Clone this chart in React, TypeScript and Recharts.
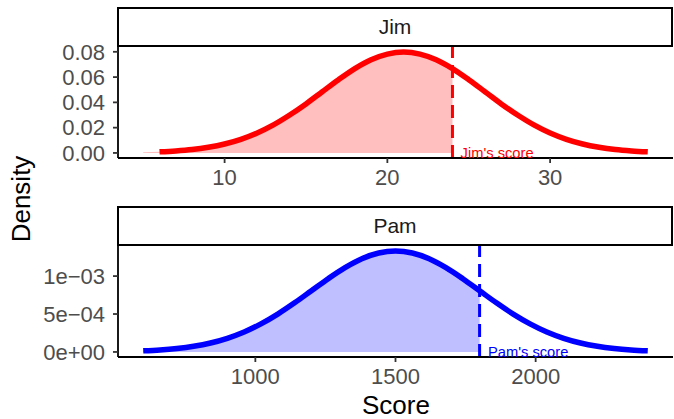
import React from "react";
import {
  ComposedChart,
  Line,
  Area,
  XAxis,
  YAxis,
  ReferenceLine,
  ReferenceDot,
} from "recharts";

// ---- Jim ----
const jimScores = [5, 6, 7, 8, 9, 10, 11, 12, 13, 14, 15, 16, 17, 18, 19, 20, 21, 22, 23, 24, 25, 26, 27, 28, 29, 30, 31, 32, 33, 34, 35, 36];
const jimDensity = [0.0005, 0.0009, 0.0016, 0.0027, 0.0045, 0.0071, 0.0108, 0.0158, 0.0222, 0.03, 0.0388, 0.0484, 0.0579, 0.0667, 0.0737, 0.0782, 0.0798, 0.0782, 0.0737, 0.0667, 0.0579, 0.0484, 0.0388, 0.03, 0.0222, 0.0158, 0.0108, 0.0071, 0.0045, 0.0027, 0.0016, 0.0009];
const jimCurveStart = 6;
const jimScore = 24;
const jimLabelX = 24.5;
const jimXTicks = [10, 20, 30];
const jimYTicks = [0, 0.02, 0.04, 0.06, 0.08];

// ---- Pam ----
const pamScores = [600, 660, 720, 780, 840, 900, 960, 1020, 1080, 1140, 1200, 1260, 1320, 1380, 1440, 1500, 1560, 1620, 1680, 1740, 1800, 1860, 1920, 1980, 2040, 2100, 2160, 2220, 2280, 2340, 2400];
const pamDensity = [0.0000148, 0.0000263, 0.0000452, 0.0000746, 0.000118, 0.00018, 0.000263, 0.00037, 0.000499, 0.000647, 0.000807, 0.000966, 0.001111, 0.001228, 0.001304, 0.00133, 0.001304, 0.001228, 0.001111, 0.000966, 0.000807, 0.000647, 0.000499, 0.00037, 0.000263, 0.00018, 0.000118, 0.0000746, 0.0000452, 0.0000263, 0.0000148];
const pamCurveStart = 600;
const pamScore = 1800;
const pamLabelX = 1830;
const pamXTicks = [1000, 1500, 2000];
const pamYTicks = [0, 0.0005, 0.001];
const pamYTickLabels = ["0e+00", "5e\u221204", "1e\u221203"];

const FONT = "'Liberation Sans', Arial, Helvetica, sans-serif";

function buildRows(xs: number[], ys: number[], curveStart: number, score: number) {
  return xs.map((x, i) => ({
    x,
    curve: x >= curveStart ? ys[i] : null,
    shade: x <= score ? ys[i] : null,
  }));
}

const jimRows = buildRows(jimScores, jimDensity, jimCurveStart, jimScore);
const pamRows = buildRows(pamScores, pamDensity, pamCurveStart, pamScore);

const tickStyle = { fill: "#4D4D4D", fontSize: 22, fontFamily: FONT };

type PanelProps = {
  rows: any[];
  color: string;
  fill: string;
  xDomain: [number, number];
  yDomain: [number, number];
  xTicks: number[];
  yTicks: number[];
  yFormat: (v: number) => string;
  score: number;
  labelX: number;
  label: string;
  height: number;
  top: number;
  xAxisHeight: number;
};

function Panel(p: PanelProps) {
  return (
    <ComposedChart
      width={674}
      height={p.height}
      data={p.rows}
      margin={{ top: p.top, right: 1, bottom: 0, left: 58 }}
    >
      <XAxis
        dataKey="x"
        type="number"
        domain={p.xDomain}
        ticks={p.xTicks}
        interval={0}
        allowDataOverflow
        height={p.xAxisHeight}
        tick={tickStyle}
        tickSize={5}
        tickMargin={6}
        axisLine={{ stroke: "#000", strokeWidth: 1.8 }}
        tickLine={{ stroke: "#333", strokeWidth: 1.8 }}
      />
      <YAxis
        type="number"
        domain={p.yDomain}
        ticks={p.yTicks}
        interval={0}
        allowDataOverflow
        width={60}
        tick={tickStyle}
        tickFormatter={p.yFormat}
        tickSize={5}
        tickMargin={8}
        axisLine={{ stroke: "#000", strokeWidth: 1.8 }}
        tickLine={{ stroke: "#333", strokeWidth: 1.8 }}
      />
      <Area
        dataKey="shade"
        type="monotone"
        fill={p.fill}
        fillOpacity={1}
        stroke="none"
        baseValue={0}
        isAnimationActive={false}
      />
      <Line
        dataKey="curve"
        type="monotone"
        stroke={p.color}
        strokeWidth={5.5}
        dot={false}
        activeDot={false}
        isAnimationActive={false}
      />
      <ReferenceLine
        x={p.score}
        stroke={p.color}
        strokeWidth={3}
        strokeDasharray="13 7"
      />
      <ReferenceDot
        x={p.labelX}
        y={0}
        r={0}
        fill="none"
        stroke="none"
        label={{
          value: p.label,
          position: "right",
          offset: 0,
          fill: p.color,
          fontSize: 14.7,
          fontFamily: FONT,
        }}
      />
    </ComposedChart>
  );
}

function Strip({ top, text }: { top: number; text: string }) {
  return (
    <div
      style={{
        position: "absolute",
        left: 117,
        top,
        width: 556,
        height: 40,
        boxSizing: "border-box",
        border: "2.5px solid #000",
        display: "flex",
        alignItems: "center",
        justifyContent: "center",
        fontFamily: FONT,
        fontSize: 21,
        color: "#1A1A1A",
        background: "#fff",
      }}
    >
      {text}
    </div>
  );
}

export default function App() {
  return (
    <div
      style={{
        position: "absolute",
        left: 0,
        top: 0,
        width: 674,
        height: 419,
        background: "#fff",
        overflow: "hidden",
      }}
    >
      <div style={{ position: "absolute", left: 0, top: 0 }}>
        <Panel
          rows={jimRows}
          color="#FF0000"
          fill="#FFBFBF"
          xDomain={[3.45, 37.55]}
          yDomain={[-0.004, 0.0838]}
          xTicks={jimXTicks}
          yTicks={jimYTicks}
          yFormat={(v) => v.toFixed(2)}
          score={jimScore}
          labelX={jimLabelX}
          label="Jim's score"
          height={200}
          top={47}
          xAxisHeight={42}
        />
      </div>
      <div style={{ position: "absolute", left: 0, top: 200 }}>
        <Panel
          rows={pamRows}
          color="#0000FF"
          fill="#BFBFFF"
          xDomain={[510, 2490]}
          yDomain={[-0.0000665, 0.0013965]}
          xTicks={pamXTicks}
          yTicks={pamYTicks}
          yFormat={(v) => pamYTickLabels[pamYTicks.indexOf(v)] ?? String(v)}
          score={pamScore}
          labelX={pamLabelX}
          label="Pam's score"
          height={219}
          top={46}
          xAxisHeight={62}
        />
      </div>
      <Strip top={7} text="Jim" />
      <Strip top={206} text="Pam" />
      <svg
        width={674}
        height={419}
        style={{ position: "absolute", left: 0, top: 0, pointerEvents: "none" }}
      >
        <text
          x={0}
          y={0}
          transform="translate(21,199) rotate(-90)"
          textAnchor="middle"
          dominantBaseline="central"
          fontFamily={FONT}
          fontSize={26}
          fill="#000"
        >
          Density
        </text>
        <text
          x={396}
          y={414}
          textAnchor="middle"
          fontFamily={FONT}
          fontSize={26}
          fill="#000"
        >
          Score
        </text>
      </svg>
    </div>
  );
}
